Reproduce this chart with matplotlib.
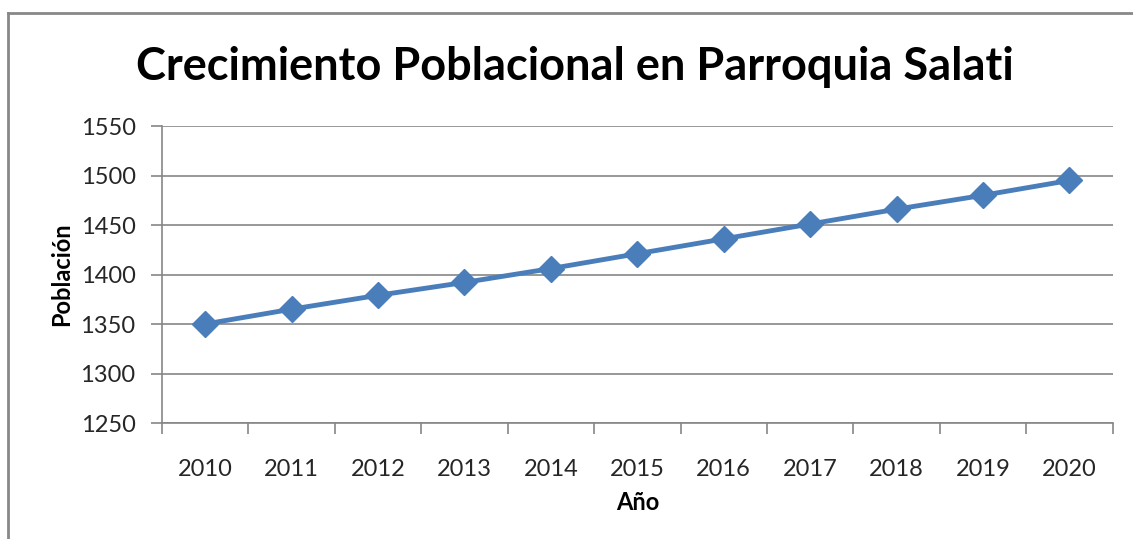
import numpy as np
import matplotlib
matplotlib.use('Agg')
from matplotlib import pyplot as plt
from matplotlib.lines import Line2D

years = ['2010', '2011', '2012', '2013', '2014', '2015',
         '2016', '2017', '2018', '2019', '2020']
poblacion = [1350, 1365, 1379, 1392, 1406, 1421, 1436, 1451, 1466, 1480, 1495]
yticks = [1250, 1300, 1350, 1400, 1450, 1500, 1550]

plt.rcParams['font.family'] = ['Lato', 'DejaVu Sans']

fig = plt.figure(figsize=(11.33, 5.39), dpi=100)
ax = fig.add_axes([0.143, 0.2152, 0.982 - 0.143, 0.7662 - 0.2152])

x = np.arange(len(years))
ax.plot(x, poblacion, color='#4A7EBB', lw=3.5, marker='D', markersize=13,
        markeredgecolor='#4A7EBB', markerfacecolor='#4A7EBB', zorder=3)

ax.set_xlim(-0.5, len(years) - 0.5)
ax.set_ylim(1250, 1550)
ax.set_yticks(yticks)
ax.set_xticks(x)
ax.set_xticklabels(years)
ax.set_xticks(np.arange(-0.5, len(years)), minor=True)

ax.tick_params(axis='x', which='major', length=0, pad=26, labelsize=17, labelcolor='#262626')
ax.tick_params(axis='x', which='minor', length=8, width=1.2, color='#868686', direction='out')
ax.tick_params(axis='y', length=8, width=1.2, color='#868686', pad=11, labelsize=17, labelcolor='#262626')

ax.grid(axis='y', color='#868686', lw=1.2)
ax.set_axisbelow(True)
for s in ['top', 'right']:
    ax.spines[s].set_visible(False)
for s in ['left', 'bottom']:
    ax.spines[s].set_color('#868686')
    ax.spines[s].set_linewidth(1.2)

ax.set_ylabel('Población', fontsize=17, fontweight='bold', labelpad=5)
ax.set_xlabel('Año', fontsize=17, fontweight='bold', labelpad=8)

fig.text(0.507, 0.876, 'Crecimiento Poblacional en Parroquia Salati',
         ha='center', va='center', fontsize=32.5, fontweight='bold')

# chart frame (left and top edges)
fig.add_artist(Line2D([8 / 1133, 8 / 1133], [0, 1 - 13 / 539], color='#888888', lw=2))
fig.add_artist(Line2D([8 / 1133, 1], [1 - 13 / 539, 1 - 13 / 539], color='#888888', lw=2))

fig.savefig('out.png', dpi=100)
